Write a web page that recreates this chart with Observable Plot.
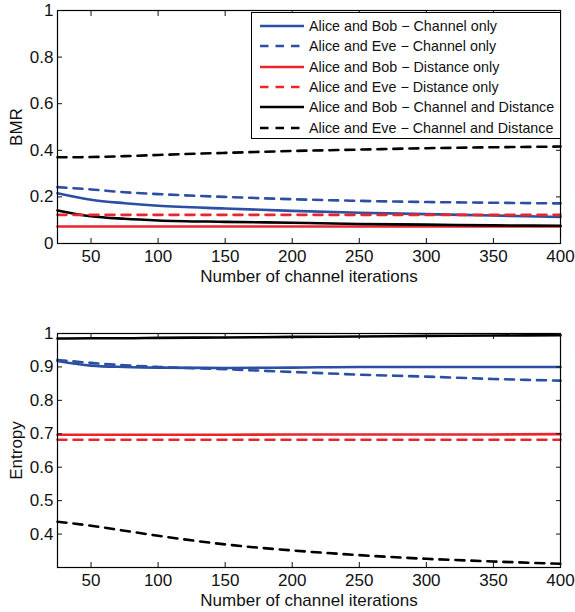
<!DOCTYPE html>
<html><head><meta charset="utf-8">
<script src="https://cdn.jsdelivr.net/npm/d3@7"></script>
<script src="https://cdn.jsdelivr.net/npm/@observablehq/plot@0.6"></script>
<style>
body{margin:0;background:#fff;font-family:"Liberation Sans",Arial,sans-serif;}
#wrap{position:relative;width:575px;height:612px;}
#wrap svg{display:block;overflow:visible;}
#legend{position:absolute;left:251px;top:12px;width:310px;height:127px;border:1px solid #000;background:#fff;box-sizing:border-box;}
.row{position:absolute;left:0;height:20px;display:flex;align-items:center;font-size:14.3px;color:#111;white-space:nowrap;}
.row svg{margin-left:8px;margin-right:5px;flex:none;}
</style>
</head><body>
<div id="wrap"><div id="topPanel"></div><div id="bottomPanel"></div><div id="legend"></div></div>
<script>
// ---- data ----
const iterations = [25, 50, 75, 100, 150, 200, 250, 300, 350, 400];
const seriesNames = [
  "Alice and Bob \u2212 Channel only",
  "Alice and Eve \u2212 Channel only",
  "Alice and Bob \u2212 Distance only",
  "Alice and Eve \u2212 Distance only",
  "Alice and Bob \u2212 Channel and Distance",
  "Alice and Eve \u2212 Channel and Distance"
];
const seriesColors = ["#2b4fa3", "#2b4fa3", "#e8262b", "#e8262b", "#000000", "#000000"];
const seriesDashed = [false, true, false, true, false, true];

// BMR (top panel)
const bmrBobChannel  = [0.216, 0.188, 0.173, 0.162, 0.150, 0.140, 0.132, 0.126, 0.120, 0.114];
const bmrEveChannel  = [0.242, 0.232, 0.220, 0.212, 0.200, 0.190, 0.183, 0.178, 0.175, 0.172];
const bmrBobDistance = [0.073, 0.073, 0.073, 0.073, 0.073, 0.073, 0.073, 0.073, 0.073, 0.073];
const bmrEveDistance = [0.123, 0.123, 0.123, 0.123, 0.123, 0.123, 0.123, 0.123, 0.123, 0.123];
const bmrBobBoth     = [0.142, 0.117, 0.106, 0.099, 0.093, 0.089, 0.084, 0.081, 0.078, 0.076];
const bmrEveBoth     = [0.370, 0.371, 0.375, 0.380, 0.389, 0.397, 0.403, 0.409, 0.413, 0.416];

// Entropy (bottom panel)
const entBobChannel  = [0.918, 0.904, 0.900, 0.898, 0.897, 0.898, 0.900, 0.900, 0.900, 0.900];
const entEveChannel  = [0.921, 0.912, 0.905, 0.900, 0.893, 0.885, 0.877, 0.871, 0.864, 0.859];
const entBobDistance = [0.697, 0.697, 0.697, 0.697, 0.697, 0.698, 0.698, 0.698, 0.698, 0.699];
const entEveDistance = [0.682, 0.682, 0.682, 0.682, 0.682, 0.682, 0.682, 0.682, 0.682, 0.682];
const entBobBoth     = [0.985, 0.986, 0.986, 0.987, 0.988, 0.990, 0.991, 0.993, 0.994, 0.995];
const entEveBoth     = [0.437, 0.425, 0.410, 0.395, 0.369, 0.351, 0.337, 0.326, 0.318, 0.311];

const xTicks = [50, 100, 150, 200, 250, 300, 350, 400];
const bmrTicks = [0, 0.2, 0.4, 0.6, 0.8, 1];
const bmrTickLabels = ["0", "0.2", "0.4", "0.6", "0.8", "1"];
const entTicks = [0.4, 0.5, 0.6, 0.7, 0.8, 0.9, 1];
const entTickLabels = ["0.4", "0.5", "0.6", "0.7", "0.8", "0.9", "1"];

// ---- build ----
function table(seriesArrays) {
  const rows = [];
  seriesArrays.forEach((arr, s) => arr.forEach((v, i) => rows.push({x: iterations[i], y: v, s, color: seriesColors[s], dashed: seriesDashed[s]})));
  return rows;
}

const FONT = '"Liberation Sans", Arial, sans-serif';

function panel({seriesArrays, yDomain, yTicks, yTickLabels, yLabel, height, marginTop, marginBottom}) {
  const rows = table(seriesArrays);
  const fmt = d => yTickLabels[yTicks.indexOf(d)] ?? "";
  return Plot.plot({
    width: 575, height, marginLeft: 57, marginRight: 15, marginTop, marginBottom,
    style: {fontFamily: FONT, fontSize: "14px", color: "#111", background: "white", overflow: "visible"},
    x: {domain: [25, 400]},
    y: {domain: yDomain},
    marks: [
      Plot.line(rows.filter(d => !d.dashed), {x: "x", y: "y", z: "s", stroke: "color", strokeWidth: 2.6, curve: "monotone-x"}),
      Plot.line(rows.filter(d => d.dashed), {x: "x", y: "y", z: "s", stroke: "color", strokeWidth: 2.6, strokeDasharray: "9,7", curve: "monotone-x"}),
      Plot.frame({stroke: "#000", strokeWidth: 1.2}),
      // inward tick marks on all sides
      Plot.axisX(xTicks, {anchor: "bottom", tickSize: -5, tickFormat: () => "", label: null}),
      Plot.axisX(xTicks, {anchor: "top", tickSize: -5, tickFormat: () => "", label: null}),
      Plot.axisY(yTicks, {anchor: "left", tickSize: -5, tickFormat: () => "", label: null}),
      Plot.axisY(yTicks, {anchor: "right", tickSize: -5, tickFormat: () => "", label: null}),
      // labels
      Plot.axisX(xTicks, {anchor: "bottom", tickSize: 0, tickPadding: 6, fontSize: 14,
        label: "Number of channel iterations", labelAnchor: "center", labelArrow: "none", labelOffset: 38}),
      Plot.axisY(yTicks, {anchor: "left", tickSize: 0, tickPadding: 4, fontSize: 14, tickFormat: fmt,
        label: yLabel, labelAnchor: "center", labelArrow: "none", labelOffset: 48})
    ]
  });
}

const topPlot = panel({
  seriesArrays: [bmrBobChannel, bmrEveChannel, bmrBobDistance, bmrEveDistance, bmrBobBoth, bmrEveBoth],
  yDomain: [0, 1], yTicks: bmrTicks, yTickLabels: bmrTickLabels, yLabel: "BMR",
  height: 300, marginTop: 10, marginBottom: 57
});
const bottomPlot = panel({
  seriesArrays: [entBobChannel, entEveChannel, entBobDistance, entEveDistance, entBobBoth, entEveBoth],
  yDomain: [0.3, 1], yTicks: entTicks, yTickLabels: entTickLabels, yLabel: "Entropy",
  height: 312, marginTop: 33, marginBottom: 45
});
document.getElementById("topPanel").appendChild(topPlot);
document.getElementById("bottomPanel").appendChild(bottomPlot);

// axis label font size
for (const svg of [topPlot, bottomPlot]) {
  svg.querySelectorAll("g[aria-label$='label'] text").forEach(t => t.style.fontSize = "17px");
}

// legend
const legend = document.getElementById("legend");
seriesNames.forEach((name, i) => {
  const row = document.createElement("div");
  row.className = "row";
  row.style.top = (3 + i * 20.3) + "px";
  const ns = "http://www.w3.org/2000/svg";
  const s = document.createElementNS(ns, "svg");
  s.setAttribute("width", 44); s.setAttribute("height", 6);
  const l = document.createElementNS(ns, "line");
  l.setAttribute("x1", 0); l.setAttribute("x2", 44); l.setAttribute("y1", 3); l.setAttribute("y2", 3);
  l.setAttribute("stroke", seriesColors[i]); l.setAttribute("stroke-width", 2.6);
  if (seriesDashed[i]) l.setAttribute("stroke-dasharray", "8.5,7");
  s.appendChild(l);
  row.appendChild(s);
  const t = document.createElement("span");
  t.textContent = name;
  row.appendChild(t);
  legend.appendChild(row);
});
</script>
</body></html>
